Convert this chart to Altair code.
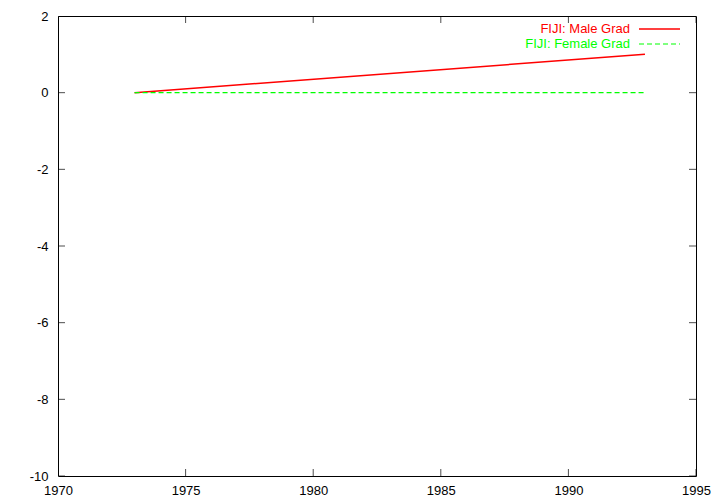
import altair as alt
import pandas as pd

# Data
years = [1973, 1993]
male_grad = [0, 1]
female_grad = [0, 0]
series_names = ["FIJI: Male Grad", "FIJI: Female Grad"]
series_colors = ["#ff0000", "#00ff00"]
x_ticks = [1970, 1975, 1980, 1985, 1990, 1995]
y_ticks = [-10, -8, -6, -4, -2, 0, 2]

FONT = "Liberation Sans"
FS = 13

df_m = pd.DataFrame({"year": years, "value": male_grad})
df_f = pd.DataFrame({"year": years, "value": female_grad})
df_xt = pd.DataFrame({"t": x_ticks})
df_yt = pd.DataFrame({"t": y_ticks})

xscale = alt.Scale(domain=[1970, 1995], nice=False, zero=False)
yscale = alt.Scale(domain=[-10, 2], nice=False, zero=False)

xaxis = alt.Axis(values=x_ticks, labelExpr="datum.value + ''", title=None, domain=False,
                 ticks=False, grid=False, labelFont=FONT, labelFontSize=FS,
                 labelColor="black", labelPadding=8, labelFlush=False)
yaxis = alt.Axis(values=y_ticks, labelExpr="datum.value + ''", title=None, domain=False,
                 ticks=False, grid=False, labelFont=FONT, labelFontSize=FS,
                 labelColor="black", labelPadding=10, labelFlush=False)

male = alt.Chart(df_m).mark_line(color=series_colors[0], strokeWidth=1.5).encode(
    x=alt.X("year:Q", scale=xscale, axis=xaxis),
    y=alt.Y("value:Q", scale=yscale, axis=yaxis),
)
female = alt.Chart(df_f).mark_line(color=series_colors[1], strokeWidth=1.2,
                                   strokeDash=[5, 3]).encode(
    x=alt.X("year:Q", scale=xscale),
    y=alt.Y("value:Q", scale=yscale),
)

tick_len = 14
xt_bottom = alt.Chart(df_xt).mark_tick(orient="vertical", size=tick_len, thickness=1,
                                       color="black", clip=True).encode(
    x=alt.X("t:Q", scale=xscale), y=alt.datum(-10))
xt_top = alt.Chart(df_xt).mark_tick(orient="vertical", size=tick_len, thickness=1,
                                    color="black", clip=True).encode(
    x=alt.X("t:Q", scale=xscale), y=alt.datum(2))
yt_left = alt.Chart(df_yt).mark_tick(orient="horizontal", size=tick_len, thickness=1,
                                     color="black", clip=True).encode(
    y=alt.Y("t:Q", scale=yscale), x=alt.datum(1970))
yt_right = alt.Chart(df_yt).mark_tick(orient="horizontal", size=tick_len, thickness=1,
                                      color="black", clip=True).encode(
    y=alt.Y("t:Q", scale=yscale), x=alt.datum(1995))

# Legend (manual, gnuplot style: label left, sample right)
leg = []
leg_y = [13, 28]
for i, (name, col) in enumerate(zip(series_names, series_colors)):
    leg.append(alt.Chart(pd.DataFrame({"s": [name]})).mark_text(
        align="right", baseline="middle", font=FONT, fontSize=FS, color=col).encode(
        text="s:N", x=alt.value(572), y=alt.value(leg_y[i])))
    rule_kw = dict(color=col, strokeWidth=1.5 if i == 0 else 1.2)
    if i == 1:
        rule_kw["strokeDash"] = [5, 3]
    leg.append(alt.Chart(pd.DataFrame({"s": [name]})).mark_rule(**rule_kw).encode(
        x=alt.value(581), x2=alt.value(622), y=alt.value(leg_y[i])))

chart = alt.layer(male, female, xt_bottom, xt_top, yt_left, yt_right, *leg).properties(
    width=638, height=460,
    autosize=alt.AutoSizeParams(type="none"),
    padding={"left": 50, "top": 8, "right": 16, "bottom": 20},
    background="white",
).configure_view(stroke="black", strokeWidth=1)

chart.save("out.html", embed_options={"renderer": "svg", "actions": False})
